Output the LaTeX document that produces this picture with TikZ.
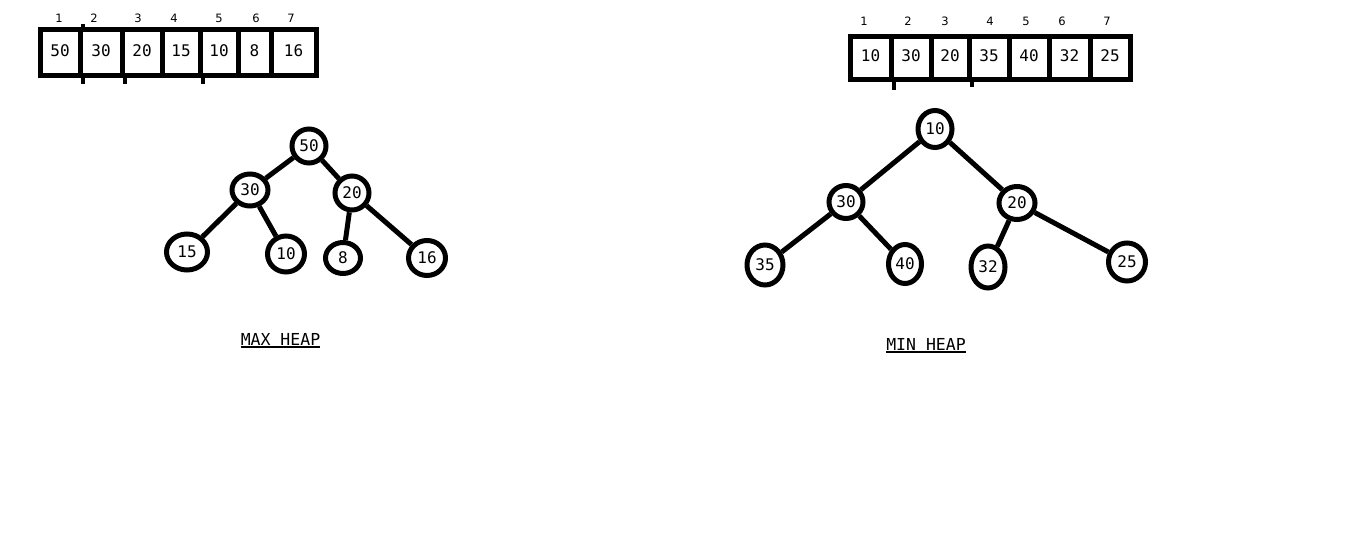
\documentclass[tikz,border=0pt]{standalone}
\usepackage{fontspec}
\setmonofont{DejaVu Sans Mono}
\newfontfamily\idxfont{DejaVu Sans}
\usetikzlibrary{shapes.geometric}
\begin{document}
\begin{tikzpicture}[x=1pt,y=-1pt,
  cell/.style={draw, rectangle, line width=5pt, inner sep=0pt,
    font=\ttfamily\fontsize{16}{18}\selectfont, text depth=5pt},
  hn/.style={draw, ellipse, line width=5pt, inner sep=0pt,
    font=\ttfamily\fontsize{16}{18}\selectfont},
  edge/.style={line width=5pt},
  tick/.style={line width=4pt},
  idx/.style={inner sep=0pt, font=\idxfont\fontsize{11.5}{13}\selectfont},
  lbl/.style={inner sep=0pt, anchor=base, font=\ttfamily\fontsize{16.5}{18}\selectfont},
  uline/.style={line width=1.5pt}]
\useasboundingbox (0,0) rectangle (1354,553);
\fill[white] (0,0) rectangle (1354,553);

% ---------- left array ----------
\begin{scope}[every node/.append style={minimum height=46pt}]
\node[cell, minimum width=40pt] (a1) at (60,53) {50};
\node[cell, minimum width=42pt] (a2) at (101,53) {30};
\node[cell, minimum width=40pt] (a3) at (142,53) {20};
\node[cell, minimum width=38pt] (a4) at (181,53) {15};
\node[cell, minimum width=38pt] (a5) at (219,53) {10};
\node[cell, minimum width=33pt] (a6) at (254.5,53) {8};
\node[cell, minimum width=45pt] (a7) at (293.5,53) {16};
\end{scope}
\draw[tick] (a1.south east) -- ++(0,6);
\draw[tick] (a1.north east) -- ++(0,-3);
\draw[tick] (a2.south east) -- ++(0,6);
\draw[tick] (a4.south east) -- ++(0,6);

\node[idx] (i1) at (59,18) {1};
\node[idx] (i2) at (94,18) {2};
\node[idx] (i3) at (138,18) {3};
\node[idx] (i4) at (174,18) {4};
\node[idx] (i5) at (219,18) {5};
\node[idx] (i6) at (256,18) {6};
\node[idx] (i7) at (291,18) {7};

% ---------- right array ----------
\begin{scope}[every node/.append style={minimum height=43pt}]
\node[cell, minimum width=41pt] (b1) at (870.5,58.5) {10};
\node[cell, minimum width=40pt] (b2) at (911,58.5) {30};
\node[cell, minimum width=38pt] (b3) at (950,58.5) {20};
\node[cell, minimum width=40pt] (b4) at (989,58.5) {35};
\node[cell, minimum width=40pt] (b5) at (1029,58.5) {40};
\node[cell, minimum width=41pt] (b6) at (1069.5,58.5) {32};
\node[cell, minimum width=40pt] (b7) at (1110,58.5) {25};
\end{scope}
\draw[tick] (b1.south east) -- ++(0,8);
\draw[tick] (b3.south east) -- ++(0,5);

\node[idx] (j1) at (864,21) {1};
\node[idx] (j2) at (908,21) {2};
\node[idx] (j3) at (945,21) {3};
\node[idx] (j4) at (990,21) {4};
\node[idx] (j5) at (1026,21) {5};
\node[idx] (j6) at (1062,21) {6};
\node[idx] (j7) at (1107,21) {7};

% ---------- max heap tree ----------
\node[hn, minimum width=34pt, minimum height=34pt] (m50) at (309,146) {50};
\node[hn, minimum width=36pt, minimum height=32pt] (m30) at (250,190) {30};
\node[hn, minimum width=34pt, minimum height=34pt] (m20) at (352,193) {20};
\node[hn, minimum width=41pt, minimum height=36pt] (m15) at (187,252) {15};
\node[hn, minimum width=37pt, minimum height=36pt] (m10) at (286,254) {10};
\node[hn, minimum width=35pt, minimum height=31pt] (m8)  at (343,258) {8};
\node[hn, minimum width=37pt, minimum height=35pt] (m16) at (427,258) {16};
\draw[edge] (m50) -- (m30);
\draw[edge] (m50) -- (m20);
\draw[edge] (m30) -- (m15);
\draw[edge] (m30) -- (m10);
\draw[edge] (m20) -- (m8);
\draw[edge] (m20) -- (m16);

% ---------- min heap tree ----------
\node[hn, minimum width=34pt, minimum height=37pt] (n10) at (935,129) {10};
\node[hn, minimum width=34pt, minimum height=33pt] (n30) at (846,202) {30};
\node[hn, minimum width=36pt, minimum height=33pt] (n20) at (1017,203) {20};
\node[hn, minimum width=36pt, minimum height=40pt] (n35) at (765,265) {35};
\node[hn, minimum width=33pt, minimum height=39pt] (n40) at (905,264) {40};
\node[hn, minimum width=34pt, minimum height=42pt] (n32) at (988,267) {32};
\node[hn, minimum width=37pt, minimum height=38pt] (n25) at (1127,262) {25};
\draw[edge] (n10) -- (n30);
\draw[edge] (n10) -- (n20);
\draw[edge] (n30) -- (n35);
\draw[edge] (n30) -- (n40);
\draw[edge] (n20) -- (n32);
\draw[edge] (n20) -- (n25);

% ---------- labels ----------
\node[lbl] (maxl) at (280.5,345) {MAX HEAP};
\draw[uline] ([yshift=-2pt]maxl.base west) -- ([yshift=-2pt]maxl.base east);
\node[lbl] (minl) at (926,350) {MIN HEAP};
\draw[uline] ([yshift=-2pt]minl.base west) -- ([yshift=-2pt]minl.base east);
\end{tikzpicture}
\end{document}
